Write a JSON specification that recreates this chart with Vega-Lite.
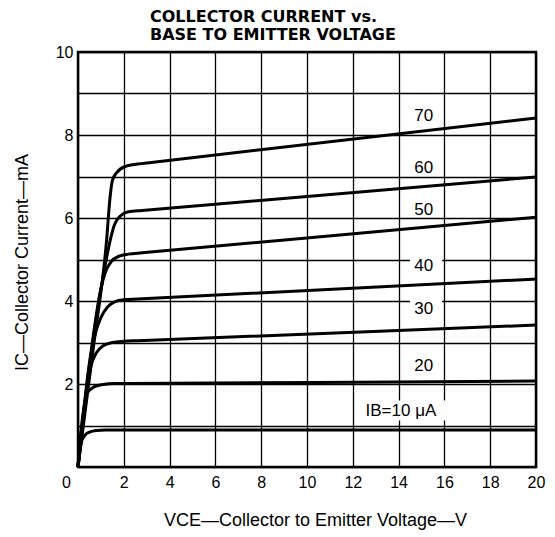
{
  "$schema": "https://vega.github.io/schema/vega-lite/v6.json",
  "width": 458,
  "height": 415,
  "autosize": {"type": "none"},
  "padding": {"left": 78, "top": 52, "right": 19, "bottom": 70},
  "config": {"view": {"stroke": "black", "strokeWidth": 2.5}, "font": "Liberation Sans"},
  "title": {
    "text": ["COLLECTOR CURRENT vs.", "BASE TO EMITTER VOLTAGE"],
    "anchor": "start",
    "frame": "group",
    "dx": 72,
    "fontSize": 16,
    "fontWeight": "bold",
    "font": "DejaVu Sans",
    "lineHeight": 18,
    "offset": 1,
    "color": "black"
  },
  "datasets": {
    "curves": [
      {"ib": 10, "v": 0, "i": 0}, {"ib": 10, "v": 0.05, "i": 0.3}, {"ib": 10, "v": 0.15, "i": 0.6}, {"ib": 10, "v": 0.3, "i": 0.76}, {"ib": 10, "v": 0.5, "i": 0.84}, {"ib": 10, "v": 0.8, "i": 0.88}, {"ib": 10, "v": 1.2, "i": 0.89}, {"ib": 10, "v": 1.8, "i": 0.89}, {"ib": 10, "v": 20, "i": 0.89},
      {"ib": 20, "v": 0, "i": 0}, {"ib": 20, "v": 0.1, "i": 0.7}, {"ib": 20, "v": 0.25, "i": 1.4}, {"ib": 20, "v": 0.4, "i": 1.78}, {"ib": 20, "v": 0.7, "i": 1.93}, {"ib": 20, "v": 1.1, "i": 1.99}, {"ib": 20, "v": 1.6, "i": 2.01}, {"ib": 20, "v": 2.2, "i": 2.012}, {"ib": 20, "v": 20, "i": 2.07},
      {"ib": 30, "v": 0, "i": 0}, {"ib": 30, "v": 0.3, "i": 1.5}, {"ib": 30, "v": 0.55, "i": 2.4}, {"ib": 30, "v": 0.8, "i": 2.75}, {"ib": 30, "v": 1.1, "i": 2.92}, {"ib": 30, "v": 1.5, "i": 3.0}, {"ib": 30, "v": 2, "i": 3.03}, {"ib": 30, "v": 2.6, "i": 3.043}, {"ib": 30, "v": 20, "i": 3.42},
      {"ib": 40, "v": 0, "i": 0}, {"ib": 40, "v": 0.5, "i": 2.5}, {"ib": 40, "v": 0.8, "i": 3.3}, {"ib": 40, "v": 1.0, "i": 3.6}, {"ib": 40, "v": 1.3, "i": 3.86}, {"ib": 40, "v": 1.6, "i": 3.98}, {"ib": 40, "v": 2, "i": 4.03}, {"ib": 40, "v": 2.6, "i": 4.047}, {"ib": 40, "v": 20, "i": 4.53},
      {"ib": 50, "v": 0, "i": 0}, {"ib": 50, "v": 0.6, "i": 2.9}, {"ib": 50, "v": 1.0, "i": 4.3}, {"ib": 50, "v": 1.2, "i": 4.7}, {"ib": 50, "v": 1.45, "i": 4.95}, {"ib": 50, "v": 1.8, "i": 5.08}, {"ib": 50, "v": 2.2, "i": 5.13}, {"ib": 50, "v": 2.8, "i": 5.16}, {"ib": 50, "v": 20, "i": 6.02},
      {"ib": 60, "v": 0, "i": 0}, {"ib": 60, "v": 0.7, "i": 3.2}, {"ib": 60, "v": 1.2, "i": 4.9}, {"ib": 60, "v": 1.4, "i": 5.45}, {"ib": 60, "v": 1.6, "i": 5.85}, {"ib": 60, "v": 1.85, "i": 6.05}, {"ib": 60, "v": 2.2, "i": 6.15}, {"ib": 60, "v": 2.8, "i": 6.18}, {"ib": 60, "v": 20, "i": 6.99},
      {"ib": 70, "v": 0, "i": 0}, {"ib": 70, "v": 0.7, "i": 3.0}, {"ib": 70, "v": 1.25, "i": 5.47}, {"ib": 70, "v": 1.4, "i": 6.5}, {"ib": 70, "v": 1.5, "i": 6.9}, {"ib": 70, "v": 1.7, "i": 7.1}, {"ib": 70, "v": 2.1, "i": 7.25}, {"ib": 70, "v": 2.6, "i": 7.3}, {"ib": 70, "v": 3.2, "i": 7.34}, {"ib": 70, "v": 20, "i": 8.41}
    ],
    "labels": [
      {"label": "70", "v": 15.1, "i": 8.46},
      {"label": "60", "v": 15.1, "i": 7.2},
      {"label": "50", "v": 15.1, "i": 6.19},
      {"label": "40", "v": 15.1, "i": 4.85},
      {"label": "30", "v": 15.1, "i": 3.8},
      {"label": "20", "v": 15.1, "i": 2.43},
      {"label": "IB=10 μA", "v": 14.1, "i": 1.35}
    ],
    "boxes": [
      {"v": 14.5, "v2": 15.9, "i": 4.62, "i2": 5.08},
      {"v": 14.5, "v2": 15.9, "i": 3.58, "i2": 4.04},
      {"v": 12.1, "v2": 16.1, "i": 1.12, "i2": 1.6}
    ]
  },
  "encoding": {
    "x": {
      "field": "v", "type": "quantitative",
      "scale": {"domain": [0, 20], "nice": false, "zero": false},
      "axis": {
        "values": [0, 2, 4, 6, 8, 10, 12, 14, 16, 18, 20],
        "grid": true, "gridColor": "black", "gridWidth": 1.3, "gridOpacity": 1,
        "domain": false, "ticks": false, "labelFlush": false,
        "labelOffset": {"condition": {"test": "datum.value == 0", "value": -12}, "value": 0},
        "labelFontSize": 16, "labelPadding": 7, "labelColor": "black", "labelFont": "Liberation Sans",
        "title": "VCE—Collector to Emitter Voltage—V",
        "titleFontSize": 18, "titleFontWeight": "normal", "titleColor": "black", "titleFont": "Liberation Sans",
        "titleX": 237, "titleY": 53, "titleBaseline": "middle"
      }
    },
    "y": {
      "field": "i", "type": "quantitative",
      "scale": {"domain": [0, 10], "nice": false},
      "axis": {
        "values": [0, 1, 2, 3, 4, 5, 6, 7, 8, 9, 10],
        "labelExpr": "datum.value % 2 == 0 && datum.value > 0 ? datum.label : ''",
        "grid": true, "gridColor": "black", "gridWidth": 1.3, "gridOpacity": 1,
        "domain": false, "ticks": false, "labelFlush": false,
        "labelFontSize": 16, "labelPadding": 5, "labelColor": "black", "labelFont": "Liberation Sans",
        "title": "IC—Collector Current—mA",
        "titleFontSize": 18, "titleFontWeight": "normal", "titleColor": "black", "titleFont": "Liberation Sans",
        "titleX": -56, "titleY": 210, "titleAngle": -90, "titleAlign": "center", "titleBaseline": "middle"
      }
    }
  },
  "layer": [
    {
      "data": {"name": "boxes"},
      "mark": {"type": "rect", "fill": "white"},
      "encoding": {"x2": {"field": "v2"}, "y2": {"field": "i2"}}
    },
    {
      "data": {"name": "curves"},
      "mark": {"type": "line", "interpolate": "monotone", "strokeWidth": 3, "color": "black"},
      "encoding": {"detail": {"field": "ib", "type": "nominal"}}
    },
    {
      "data": {"name": "labels"},
      "mark": {"type": "text", "fontSize": 17, "font": "Liberation Sans", "color": "black"},
      "encoding": {"text": {"field": "label", "type": "nominal"}}
    }
  ]
}
